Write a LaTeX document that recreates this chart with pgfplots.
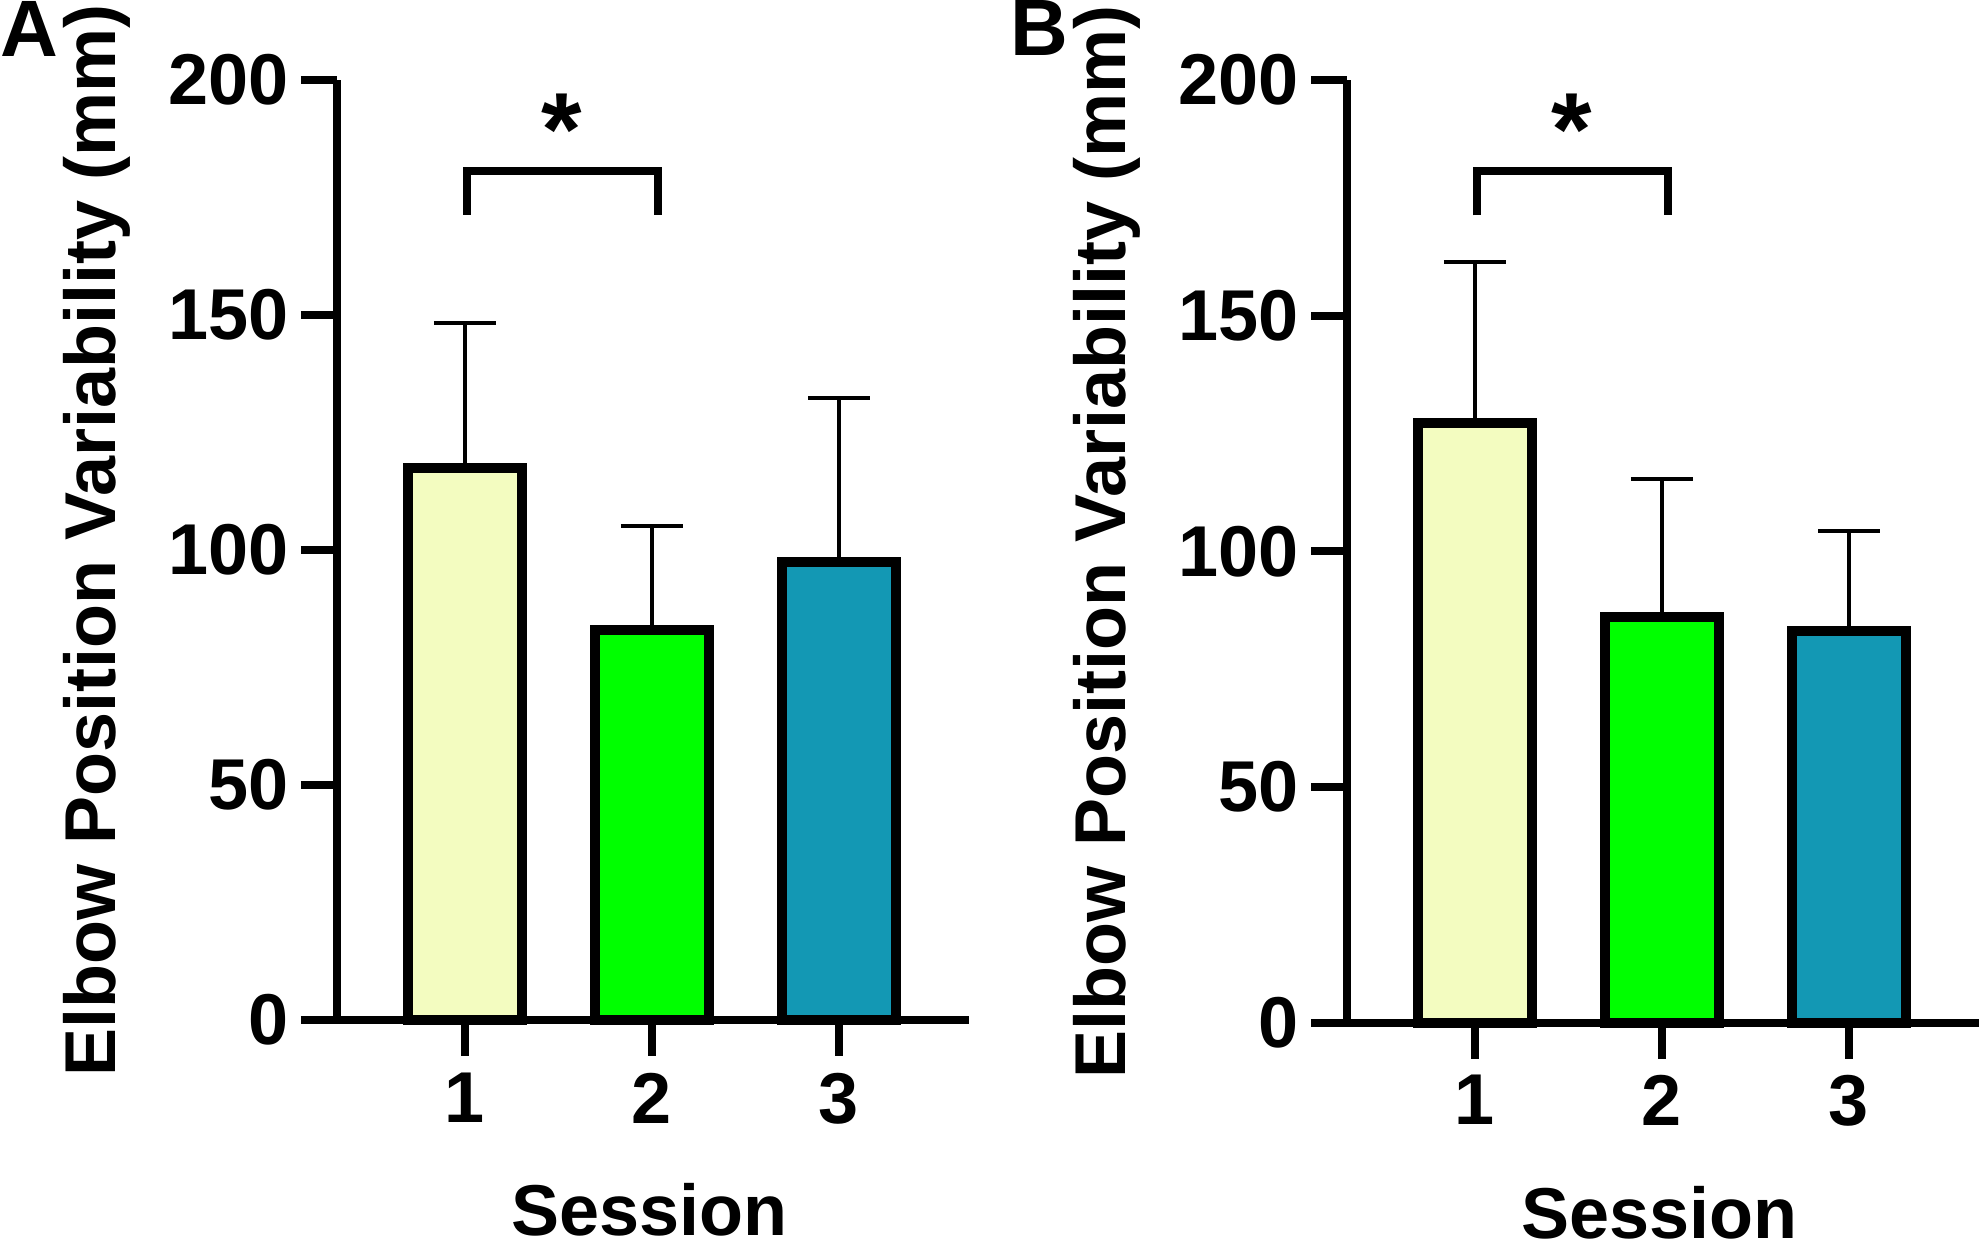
\documentclass[border=0pt]{standalone}
\usepackage{pgfplots}
\pgfplotsset{compat=1.18}
\usepackage{fontspec}
\setmainfont{Liberation Sans}
\definecolor{cyel}{HTML}{F3FCC0}
\definecolor{cgrn}{HTML}{00FF00}
\definecolor{cteal}{HTML}{1398B4}
\pgfplotsset{
 myax/.style={
  scale only axis, width=158pt, height=235pt,
  xmin=0.316, xmax=3.695, ymin=0, ymax=200,
  axis x line*=bottom, axis y line*=left,
  axis line style={line width=2pt},
  xtick={1,2,3}, ytick={0,50,100,150,200},
  tick align=outside, major tick length=9pt,
  tick style={line width=2pt, black},
  minor tick num=0,
  /pgf/number format/assume math mode=true,
  ticklabel style={font=\fontsize{18}{20}\selectfont\bfseries},
  yticklabel style={anchor=east, inner sep=0pt, xshift=-3pt},
  xticklabel style={anchor=north, inner sep=0pt, yshift=-4pt},
  label style={font=\fontsize{18}{20}\selectfont\bfseries},
  xlabel={Session}, ylabel={Elbow Position Variability (mm)},
  xlabel style={at={(axis description cs:0.495,-0.202)}, anchor=center},
  ylabel style={at={(axis description cs:-0.38,0.51)}, anchor=center},
  ybar, bar width=28.5pt, bar shift=0pt,
  clip=false,
  every axis plot/.append style={draw=black, line width=2.5pt},
  error bars/y dir=plus, error bars/y explicit,
  error bars/error bar style={line width=1pt, black},
  error bars/error mark options={rotate=90, line width=1pt, mark size=7.75pt, black},
 }
}
\begin{document}
\begin{tikzpicture}
\useasboundingbox (0,0) rectangle (495.75pt,313.25pt);
% Panel A
\begin{axis}[myax, at={(84.25pt,58.25pt)}, anchor=south west]
\addplot[fill=cyel] coordinates {(1,117.4) +- (0,31.0)};
\addplot[fill=cgrn] coordinates {(2,83.0) +- (0,22.0)};
\addplot[fill=cteal] coordinates {(3,97.4) +- (0,35.0)};
\draw[line width=2pt] (axis cs:1.01,171.3) -- (axis cs:1.01,180.6) -- (axis cs:2.03,180.6) -- (axis cs:2.03,171.3);
\node[font=\fontsize{26}{28}\selectfont\bfseries] at (axis cs:1.52,189.5) {*};
\end{axis}
% Panel B
\begin{axis}[myax, at={(336.75pt,57.6pt)}, anchor=south west, height=235.6pt]
\addplot[fill=cyel] coordinates {(1,127.2) +- (0,34.2)};
\addplot[fill=cgrn] coordinates {(2,86.0) +- (0,29.4)};
\addplot[fill=cteal] coordinates {(3,83.2) +- (0,21.1)};
\draw[line width=2pt] (axis cs:1.01,171.3) -- (axis cs:1.01,180.7) -- (axis cs:2.03,180.7) -- (axis cs:2.03,171.3);
\node[font=\fontsize{26}{28}\selectfont\bfseries] at (axis cs:1.52,189.5) {*};
\end{axis}
\node[font=\fontsize{20}{22}\selectfont\bfseries, anchor=base west, inner sep=0pt] at (0pt,299pt) {A};
\node[font=\fontsize{20}{22}\selectfont\bfseries, anchor=base west, inner sep=0pt] at (252.5pt,299.25pt) {B};
\end{tikzpicture}
\end{document}
